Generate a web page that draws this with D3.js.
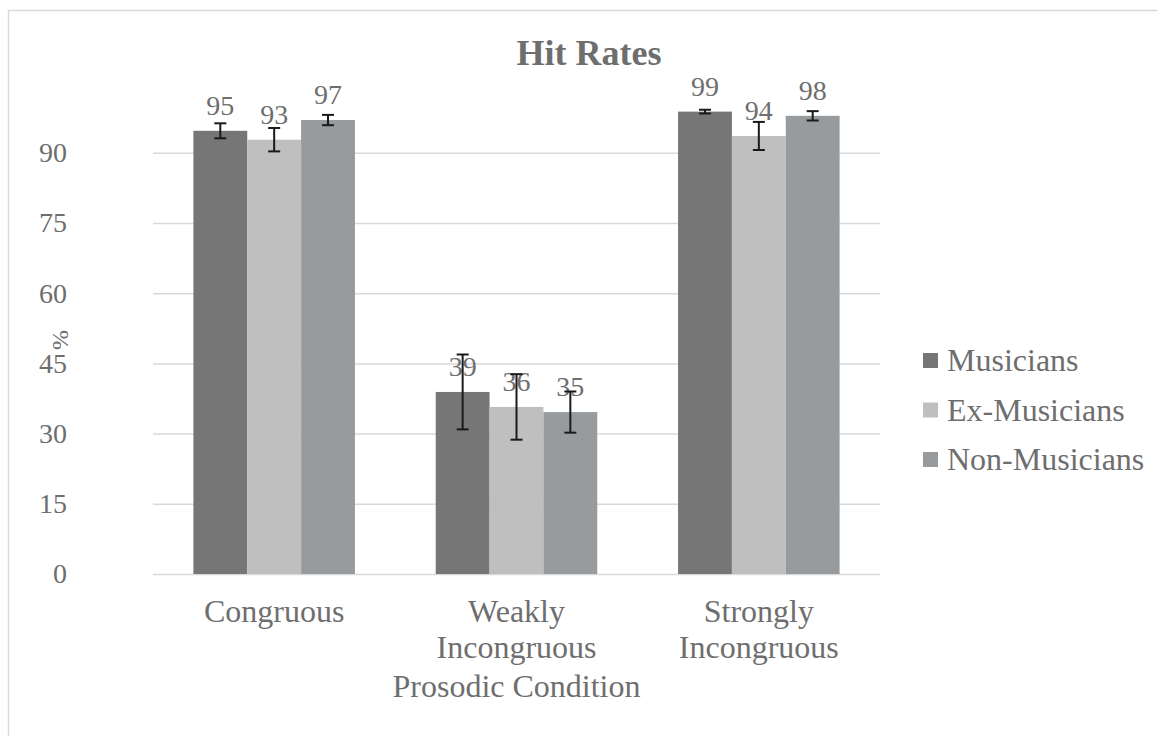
<!DOCTYPE html>
<html>
<head>
<meta charset="utf-8">
<script src="https://cdn.jsdelivr.net/npm/d3@7"></script>
<style>
  body { margin: 0; background: #fff; }
  text { font-family: "Liberation Serif", "Times New Roman", serif; fill: #6e6e6e; }
</style>
</head>
<body>
<div class="vis"></div>
<script>
// chart data
const categories = ["Congruous", "Weakly Incongruous", "Strongly Incongruous"];
const groups = ["Musicians", "Ex-Musicians", "Non-Musicians"];
const musicians = [94.7, 38.9, 98.8];
const exMusicians = [92.8, 35.7, 93.6];
const nonMusicians = [97.0, 34.6, 97.9];
const musiciansErr = [1.6, 8.0, 0.4];
const exMusiciansErr = [2.5, 7.0, 3.0];
const nonMusiciansErr = [1.1, 4.4, 1.0];
const musiciansLabels = ["95", "39", "99"];
const exMusiciansLabels = ["93", "36", "94"];
const nonMusiciansLabels = ["97", "35", "98"];
const yTicks = [0, 15, 30, 45, 60, 75, 90];

const seriesValues = [musicians, exMusicians, nonMusicians];
const seriesErr = [musiciansErr, exMusiciansErr, nonMusiciansErr];
const seriesLabels = [musiciansLabels, exMusiciansLabels, nonMusiciansLabels];

const width = 1157, height = 736;
const plot = { left: 153, right: 880, top: 106, bottom: 574 };

const svg = d3.select(".vis").append("svg")
    .attr("width", width)
    .attr("height", height);

// chart border
svg.append("rect")
    .attr("x", 8.5).attr("y", 10.5)
    .attr("width", 1170).attr("height", 740)
    .attr("fill", "none")
    .attr("stroke", "#d9d9d9")
    .attr("stroke-width", 1.5);

const color = d3.scaleOrdinal()
    .domain(groups)
    .range(["#767676", "#bfbfbf", "#989b9e"]);

const x0 = d3.scaleBand()
    .domain(categories)
    .range([plot.left, plot.right])
    .paddingInner(1 / 3)
    .paddingOuter(1 / 6);

const x1 = d3.scaleBand()
    .domain(groups)
    .range([0, x0.bandwidth()]);

const y = d3.scaleLinear()
    .domain([0, 100])
    .range([plot.bottom, plot.top]);

// gridlines + tick labels
const yAxis = svg.append("g")
    .attr("transform", "translate(" + plot.left + ",0)")
    .call(d3.axisLeft(y)
        .tickValues(yTicks)
        .tickSize(-(plot.right - plot.left))
        .tickPadding(86));
yAxis.select(".domain").remove();
yAxis.selectAll(".tick line").attr("stroke", "#d9d9d9").attr("stroke-width", 1.5);
yAxis.selectAll(".tick text")
    .attr("font-size", 28)
    .attr("text-anchor", "end")
    .attr("x", -86)
    .style("font-family", '"Liberation Serif", serif')
    .attr("fill", "#6e6e6e");

// bars
const rows = categories.map((c, i) => groups.map((g, j) => ({
    cat: c, group: g,
    value: seriesValues[j][i],
    err: seriesErr[j][i],
    label: seriesLabels[j][i]
})));

const gCat = svg.append("g")
    .selectAll("g")
    .data(rows)
    .join("g")
    .attr("transform", (d, i) => "translate(" + x0(categories[i]) + ",0)");

gCat.selectAll("rect")
    .data(d => d)
    .join("rect")
    .attr("x", d => x1(d.group))
    .attr("y", d => y(d.value))
    .attr("width", x1.bandwidth())
    .attr("height", d => y(0) - y(d.value))
    .attr("fill", d => color(d.group));

// value labels
gCat.selectAll("text.val")
    .data(d => d)
    .join("text")
    .attr("class", "val")
    .attr("x", d => x1(d.group) + x1.bandwidth() / 2)
    .attr("y", d => y(d.value) - 16)
    .attr("text-anchor", "middle")
    .attr("font-size", 28)
    .text(d => d.label);

// error bars
const eb = gCat.selectAll("g.err")
    .data(d => d)
    .join("g")
    .attr("class", "err")
    .attr("stroke", "#1a1a1a")
    .attr("stroke-width", 2);
eb.append("line")
    .attr("x1", d => x1(d.group) + x1.bandwidth() / 2)
    .attr("x2", d => x1(d.group) + x1.bandwidth() / 2)
    .attr("y1", d => y(d.value + d.err))
    .attr("y2", d => y(d.value - d.err));
eb.append("line")
    .attr("x1", d => x1(d.group) + x1.bandwidth() / 2 - 6)
    .attr("x2", d => x1(d.group) + x1.bandwidth() / 2 + 6)
    .attr("y1", d => y(d.value + d.err))
    .attr("y2", d => y(d.value + d.err));
eb.append("line")
    .attr("x1", d => x1(d.group) + x1.bandwidth() / 2 - 6)
    .attr("x2", d => x1(d.group) + x1.bandwidth() / 2 + 6)
    .attr("y1", d => y(d.value - d.err))
    .attr("y2", d => y(d.value - d.err));

// category labels
const catLabels = svg.append("g")
    .selectAll("text")
    .data(categories)
    .join("text")
    .attr("x", d => x0(d) + x0.bandwidth() / 2)
    .attr("y", 622)
    .attr("text-anchor", "middle")
    .attr("font-size", 32);
catLabels.each(function (d) {
    const words = d.split(" ");
    d3.select(this).selectAll("tspan")
        .data(words)
        .join("tspan")
        .attr("x", x0(d) + x0.bandwidth() / 2)
        .attr("dy", (w, i) => i === 0 ? 0 : 36)
        .text(w => w);
});

// axis titles
svg.append("text")
    .attr("x", (plot.left + plot.right) / 2)
    .attr("y", 697)
    .attr("text-anchor", "middle")
    .attr("font-size", 32)
    .text("Prosodic Condition");

svg.append("text")
    .attr("transform", "translate(68,340) rotate(-90)")
    .attr("text-anchor", "middle")
    .attr("font-size", 24)
    .text("%");

// title
svg.append("text")
    .attr("x", 589)
    .attr("y", 65)
    .attr("text-anchor", "middle")
    .attr("font-size", 36)
    .attr("font-weight", "bold")
    .text("Hit Rates");

// legend
const legend = svg.append("g")
    .selectAll("g")
    .data(groups)
    .join("g")
    .attr("transform", (d, i) => "translate(923," + (353 + i * 49.5) + ")");
legend.append("rect")
    .attr("width", 15).attr("height", 15)
    .attr("fill", d => color(d));
legend.append("text")
    .attr("x", 24)
    .attr("y", 18)
    .attr("font-size", 32)
    .text(d => d);
</script>
</body>
</html>
